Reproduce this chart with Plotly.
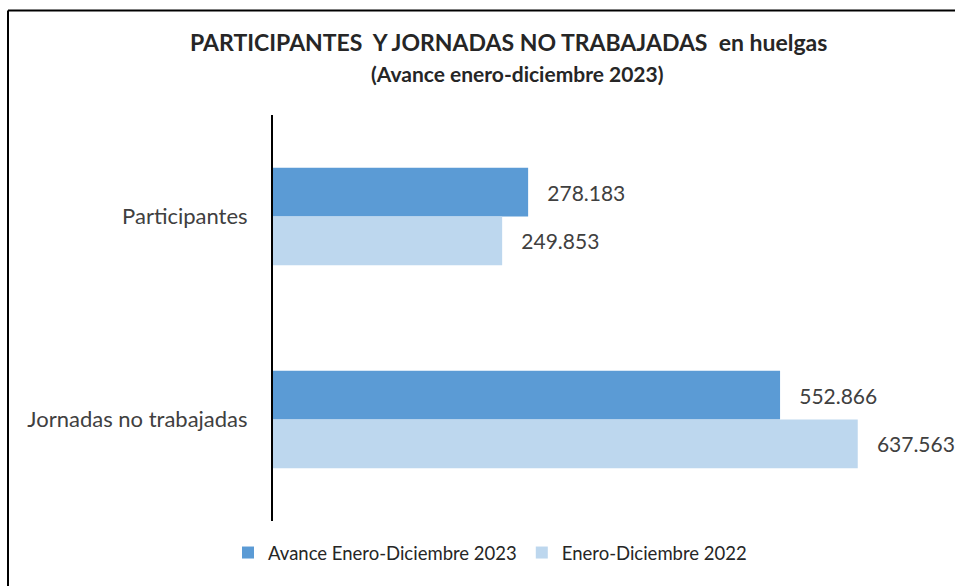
import plotly.graph_objects as go

categories = ["Participantes", "Jornadas no trabajadas"]
series_2023 = [278183, 552866]
series_2022 = [249853, 637563]
name_2023 = "Avance Enero-Diciembre 2023"
name_2022 = "Enero-Diciembre 2022"
title_line1 = "PARTICIPANTES  Y JORNADAS NO TRABAJADAS  en huelgas"
title_line2 = "(Avance enero-diciembre 2023)"

FONT = "Lato"
W, H = 955, 586
L, R, T, B = 273, 40, 115, 65
pw = W - L - R
ph = H - T - B

pad = "\u00a0\u00a0\u00a0"

fig = go.Figure()
fig.add_trace(go.Bar(
    y=categories, x=series_2023, name=name_2023, orientation="h",
    marker=dict(color="#5B9BD5", line=dict(width=0)),
    texttemplate=pad + "%{x:,}", textposition="outside",
    textfont=dict(family=FONT, size=21, color="#404040"), cliponaxis=False,
))
fig.add_trace(go.Bar(
    y=categories, x=series_2022, name=name_2022, orientation="h",
    marker=dict(color="#BDD7EE", line=dict(width=0)),
    texttemplate=pad + "%{x:,}", textposition="outside",
    textfont=dict(family=FONT, size=21, color="#404040"), cliponaxis=False,
))

def px_x(px):
    return (px - L) / pw

def px_y(py):
    return (H - B - py) / ph

fig.update_layout(
    width=W, height=H,
    margin=dict(l=L, r=R, t=T, b=B, pad=0),
    paper_bgcolor="white", plot_bgcolor="white",
    separators=",.",
    barmode="group", bargap=0.52, bargroupgap=0,
    showlegend=True,
    legend=dict(orientation="h", x=px_x(490), xanchor="center", y=px_y(553), yanchor="middle",
                font=dict(family=FONT, size=18.5, color="#262626"), traceorder="normal",
                itemsizing="constant", itemwidth=30),
    xaxis=dict(range=[0, 700000], showgrid=False, showticklabels=False, zeroline=False,
               showline=False, ticks=""),
    yaxis=dict(autorange="reversed", showline=True, linecolor="black", linewidth=2,
               ticks="", showgrid=False, zeroline=False,
               tickfont=dict(family=FONT, size=22, color="#404040"), ticklabelstandoff=19),
    font=dict(family=FONT),
    annotations=[
        dict(text="<b>" + title_line1 + "</b>", xref="paper", yref="paper",
             x=px_x(508), y=px_y(42), xanchor="center", yanchor="middle", showarrow=False,
             font=dict(family=FONT, size=23, color="#262626")),
        dict(text="<b>" + title_line2 + "</b>", xref="paper", yref="paper",
             x=px_x(517), y=px_y(73), xanchor="center", yanchor="middle", showarrow=False,
             font=dict(family=FONT, size=21, color="#262626")),
    ],
    shapes=[
        dict(type="line", xref="paper", yref="paper", x0=px_x(8), x1=px_x(960),
             y0=px_y(10.5), y1=px_y(10.5), line=dict(color="black", width=2)),
        dict(type="line", xref="paper", yref="paper", x0=px_x(8), x1=px_x(8),
             y0=px_y(10.5), y1=px_y(600), line=dict(color="black", width=2)),
    ],
)

fig.write_html("out.html", config={"displayModeBar": False},
               post_script="document.body.style.margin='0px';")
